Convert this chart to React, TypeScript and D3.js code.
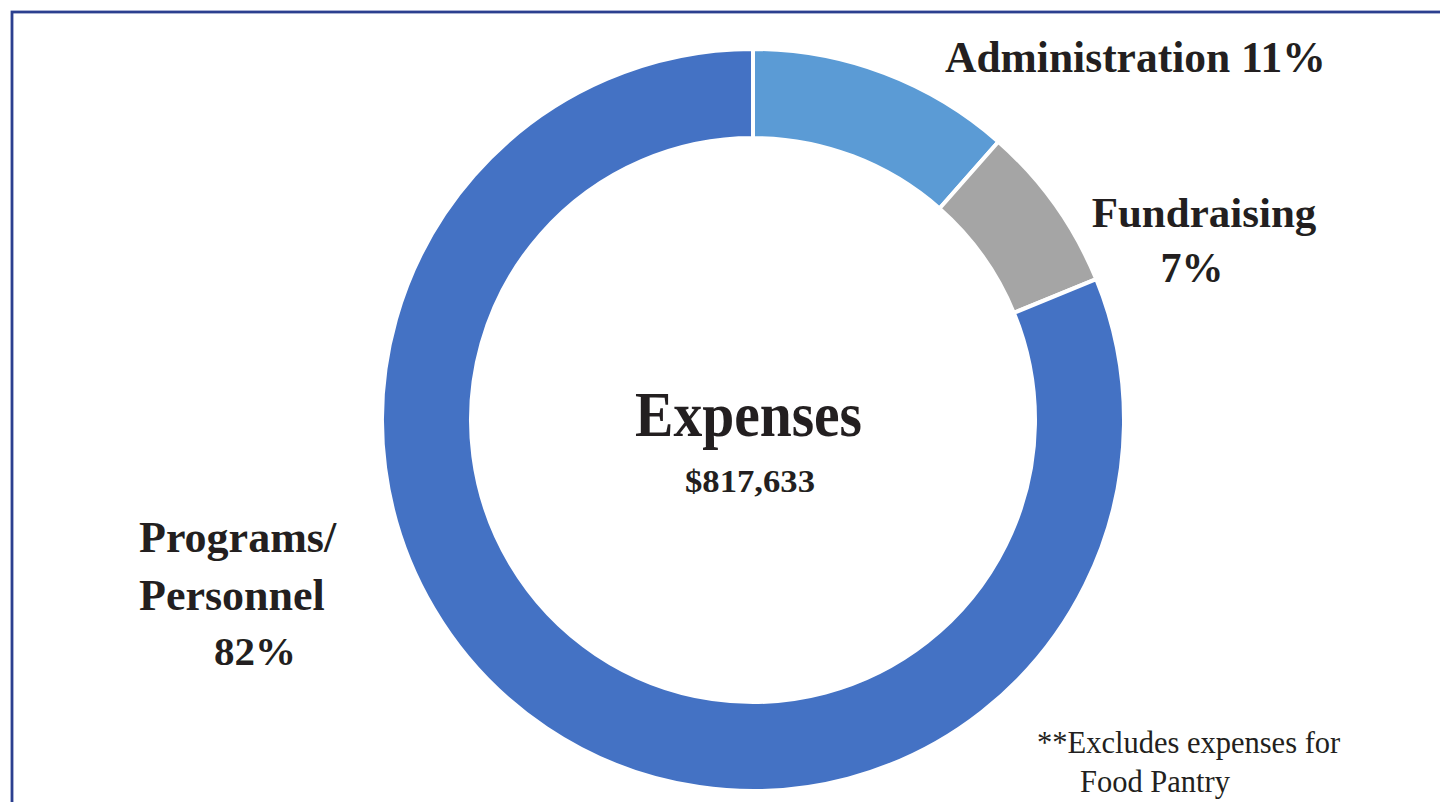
import React from "react";
import * as d3 from "d3";

const categories = ["Administration", "Fundraising", "Programs/Personnel"];
const values = [11.5, 7.3, 81.2];
const colors = ["#5b9bd5", "#a5a5a5", "#4472c4"];
const title = "Expenses";
const total = "$817,633";
const footnote = ["**Excludes expenses for", "Food Pantry"];

const W = 1440;
const H = 802;
const cx = 753;
const cy = 420;
const rOuter = 371;
const rInner = 282;
const ink = "#231f20";
const serif = "'Liberation Serif', 'Times New Roman', serif";

export default function App() {
  const pie = d3.pie<number>().sort(null).value((d) => d)(values);
  const arc = d3.arc<d3.PieArcDatum<number>>().innerRadius(rInner).outerRadius(rOuter);

  return (
    <svg
      width={W}
      height={H}
      style={{ position: "absolute", left: 0, top: 0, display: "block", background: "#fff" }}
    >
      <rect x={12} y={12} width={W + 100} height={H + 100} fill="none" stroke="#2b3f8f" strokeWidth={2.8} />
      <g transform={`translate(${cx},${cy})`}>
        {pie.map((p, i) => (
          <path key={categories[i]} d={arc(p) || ""} fill={colors[i]} stroke="#fff" strokeWidth={4} />
        ))}
      </g>
      <g fill={ink} fontFamily={serif} fontWeight="bold">
        <text x={635} y={436} fontSize={64} textLength={227} lengthAdjust="spacingAndGlyphs">{title}</text>
        <text x={685} y={492} fontSize={32} textLength={130} lengthAdjust="spacingAndGlyphs">{total}</text>
        <text x={945} y={72} fontSize={43.5}>{`${categories[0]} 11%`}</text>
        <text x={1204} y={227} textAnchor="middle" fontSize={43}>{categories[1]}</text>
        <text x={1192} y={282} textAnchor="middle" fontSize={42}>7%</text>
        <text x={139} y={552} fontSize={44}>Programs/</text>
        <text x={139} y={610} fontSize={44}>Personnel</text>
        <text x={214} y={665} fontSize={41}>82%</text>
      </g>
      <g fill={ink} fontFamily={serif} fontSize={30.5}>
        <text x={1037} y={753}>{footnote[0]}</text>
        <text x={1080} y={792}>{footnote[1]}</text>
      </g>
    </svg>
  );
}
